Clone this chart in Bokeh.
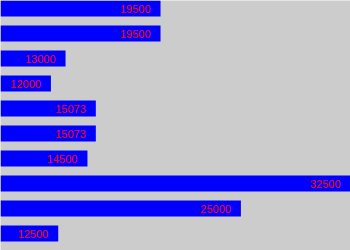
from bokeh.plotting import figure
from bokeh.models import Range1d, ColumnDataSource
from bokeh.embed import file_html
from bokeh.resources import INLINE
from bokeh.core.properties import value

values = [19500, 19500, 13000, 12000, 15073, 15073, 14500, 32500, 25000, 12500]
labels = [str(v) for v in values]
positions = list(range(len(values)))

src = ColumnDataSource(dict(y=positions, v=values, lab=labels))

p = figure(width=350, height=250, output_backend="svg", toolbar_location=None,
           x_range=Range1d(8550, 32500), y_range=Range1d(9.68, -0.32),
           x_axis_location=None, y_axis_location=None,
           min_border=0, min_border_left=0, min_border_right=0,
           min_border_top=0, min_border_bottom=0)
p.grid.visible = False
p.outline_line_color = None
p.background_fill_color = "#cccccc"
p.border_fill_color = "#cccccc"

p.hbar(y="y", left=0, right="v", height=0.64, source=src,
       fill_color="#0000ff", line_color=None)
p.text(x="v", y="y", text="lab", source=src, x_offset=-10,
       text_align="right", text_baseline="middle", text_color="#ff0000",
       text_font=value("Liberation Sans"), text_font_size="11px")

open("out.html", "w").write(file_html(p, INLINE))
